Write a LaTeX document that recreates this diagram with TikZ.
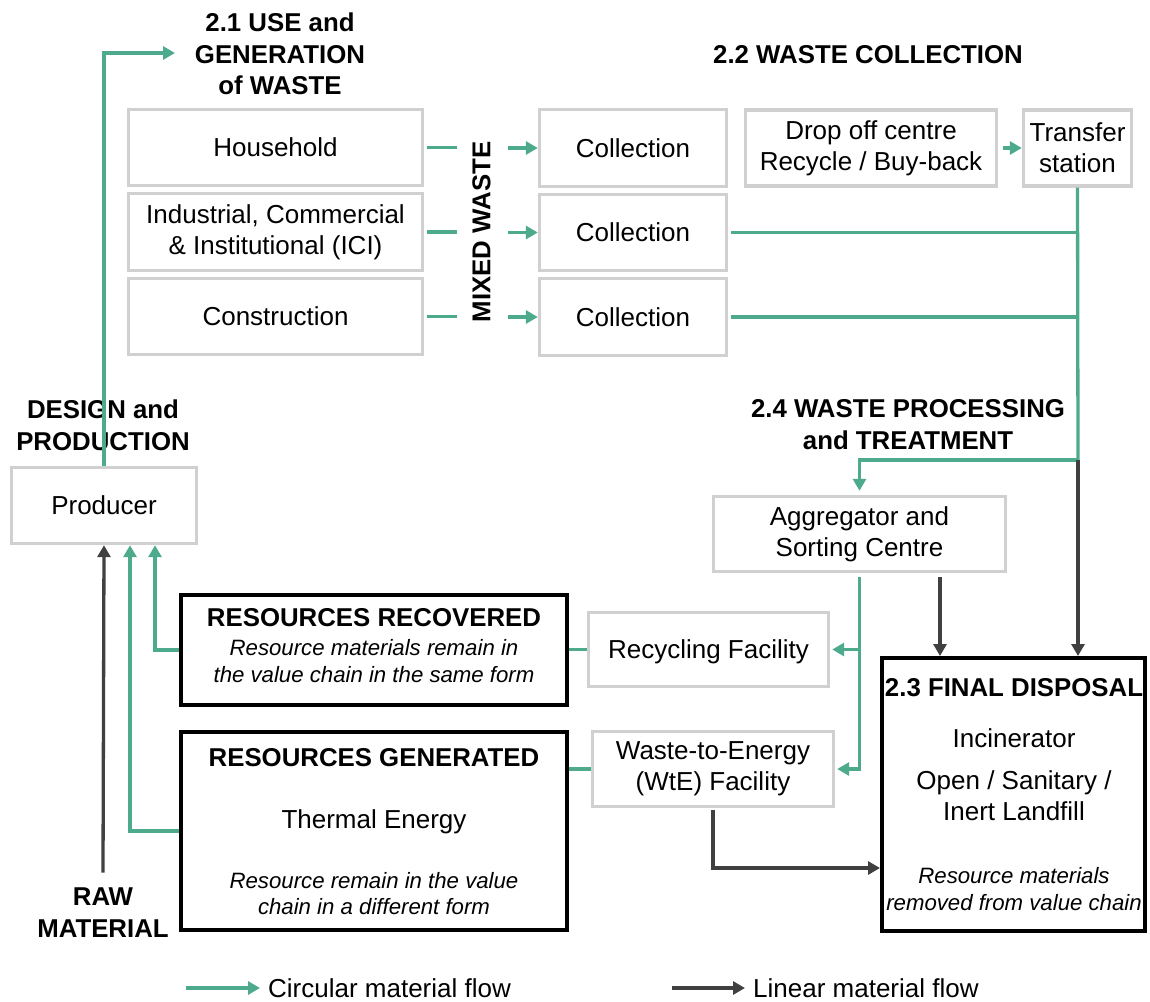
\documentclass[tikz,border=0pt]{standalone}
\usepackage{fontspec}
\setmainfont{Liberation Sans}
\usetikzlibrary{arrows.meta}
\definecolor{flowgreen}{HTML}{4DAA8C}
\definecolor{flowdark}{HTML}{404040}
\definecolor{boxgray}{HTML}{D0D0D0}

\begin{document}
\begin{tikzpicture}[x=1pt,y=-1pt,
  every node/.style={font=\fontsize{26}{31}\selectfont, inner sep=0pt},
  gbox/.style={draw=boxgray, line width=3.4pt, align=center, fill=white},
  kbox/.style={draw=black, line width=4pt},
  head/.style={font=\fontsize{25.8}{31.5}\selectfont\bfseries, align=center},
  note/.style={font=\fontsize{22.2}{26.5}\selectfont\itshape, align=center},
  one/.style={text height=18.5pt, text depth=0pt},
  gline/.style={draw=flowgreen, line width=3.3pt},
  garrow/.style={gline, -{Triangle[length=12pt,width=13pt]}},
  darrow/.style={draw=flowdark, line width=3.3pt, -{Triangle[length=12pt,width=13pt]}},
]
\useasboundingbox (0,0) rectangle (1150,1001);

% headings
\node[head] (h21) at (280,54) {2.1 USE and\\GENERATION\\of WASTE};
\node[head, one] (h22) at (868,54) {2.2 WASTE COLLECTION};
\node[head] (h24) at (908,424.5) {2.4 WASTE PROCESSING\\and TREATMENT};
\node[head] (hdp) at (103,425.5) {DESIGN and\\PRODUCTION};
\node[head] (raw) at (103,912.5) {RAW\\MATERIAL};
\node[head, one, rotate=90] (mixed) at (481,232) {MIXED WASTE};

% sources of waste
\node[gbox, one, minimum width=294, minimum height=76] (hh) at (275.5,147.5) {Household};
\node[gbox, minimum width=294, minimum height=77] (ici) at (275.5,232) {Industrial, Commercial\\\& Institutional (ICI)};
\node[gbox, one, minimum width=294, minimum height=76] (con) at (275.5,316.5) {Construction};

% collection
\node[gbox, one, minimum width=187, minimum height=77] (col1) at (633,148) {Collection};
\node[gbox, one, minimum width=187, minimum height=76] (col2) at (633,232.5) {Collection};
\node[gbox, one, minimum width=187, minimum height=77] (col3) at (633,317) {Collection};
\node[gbox, minimum width=251, minimum height=76] (drop) at (871,148) {Drop off centre\\Recycle / Buy-back};
\node[gbox, minimum width=108, minimum height=76] (trans) at (1077.5,148) {Transfer\\station};

% producer and processing
\node[gbox, one, minimum width=185, minimum height=76] (prod) at (104,505.5) {Producer};
\node[gbox, minimum width=292, minimum height=75] (agg) at (859.5,534) {Aggregator and\\Sorting Centre};
\node[gbox, one, minimum width=240, minimum height=74] (rec) at (708.5,649.5) {Recycling Facility};
\node[gbox, minimum width=241, minimum height=75] (wte) at (713,769) {Waste-to-Energy\\(WtE) Facility};

% outcome boxes
\node[kbox, minimum width=386, minimum height=110] (rr) at (374,650) {};
\node[head, one] (rrhead) at (374,617) {RESOURCES RECOVERED};
\node[note] (rrnote) at (374,661) {Resource materials remain in\\the value chain in the same form};

\node[kbox, minimum width=386, minimum height=198] (rg) at (374,831) {};
\node[head, one] (rghead) at (374,757) {RESOURCES GENERATED};
\node[one] (rgbody) at (374,819) {Thermal Energy};
\node[note] (rgnote) at (374,893.5) {Resource remain in the value\\chain in a different form};

\node[kbox, minimum width=263, minimum height=273] (fd) at (1013.5,794.5) {};
\node[head, one] (fdhead) at (1014,687) {2.3 FINAL DISPOSAL};
\node[one] (fdinc) at (1014,738) {Incinerator};
\node[align=center] (fdland) at (1014,796) {Open / Sanitary /\\Inert Landfill};
\node[note] (fdnote) at (1014,889) {Resource materials\\removed from value chain};

% helper points
\coordinate (genin) at (175,53);
\coordinate (split) at (1078,460);
\coordinate (darkx) at (940,0);
\coordinate (fdrow) at (0,868);

% circular flows
\draw[garrow] (prod.north) |- (genin);
\draw[gline] ([xshift=3pt]hh.east) -- ++(30,0);
\draw[gline] ([xshift=3pt]ici.east) -- ++(30,0);
\draw[gline] ([xshift=3pt]con.east) -- ++(30,0);
\draw[garrow] ([xshift=-30pt]col1.west) -- (col1.west);
\draw[garrow] ([xshift=-30pt]col2.west) -- (col2.west);
\draw[garrow] ([xshift=-30pt]col3.west) -- (col3.west);
\draw[garrow, shorten <=5pt] (drop.east) -- (trans.west);
\draw[gline] (trans.south) -- (split);
\draw[gline, shorten <=3pt] (col2.east) -- (col2.east -| split);
\draw[gline, shorten <=3pt] (col3.east) -- (col3.east -| split);
\draw[garrow, shorten >=4pt] (split) -| (agg.north);
\draw[garrow, shorten <=4pt, shorten >=2pt] (agg.south) |- (wte.east);
\draw[garrow, shorten >=2pt] (agg.south |- rec.east) -- (rec.east);
\draw[gline] (rec.west) -- (rec.west -| rr.east);
\draw[gline] (wte.west) -- (wte.west -| rg.east);
\draw[garrow] (rr.west) -| ([xshift=51pt]prod.south);
\draw[garrow] (rg.west) -| ([xshift=26pt]prod.south);

% linear flows
\draw[darrow] (split) -- (split |- fd.north);
\draw[darrow, shorten <=4pt] (agg.south -| darkx) -- (darkx |- fd.north);
\draw[darrow, shorten <=2pt] (wte.south) |- (fd.west |- fdrow);
\draw[darrow] ([yshift=15pt]raw.north) -- (prod.south);

% legend
\node[one, anchor=west] (lgc) at (268,988) {Circular material flow};
\node[one, anchor=west] (lgl) at (753,988) {Linear material flow};
\coordinate (lgcs) at (186,988);
\coordinate (lgls) at (672,988);
\draw[garrow, shorten >=8pt] (lgcs) -- (lgc.west);
\draw[darrow, shorten >=8pt] (lgls) -- (lgl.west);
\end{tikzpicture}
\end{document}
